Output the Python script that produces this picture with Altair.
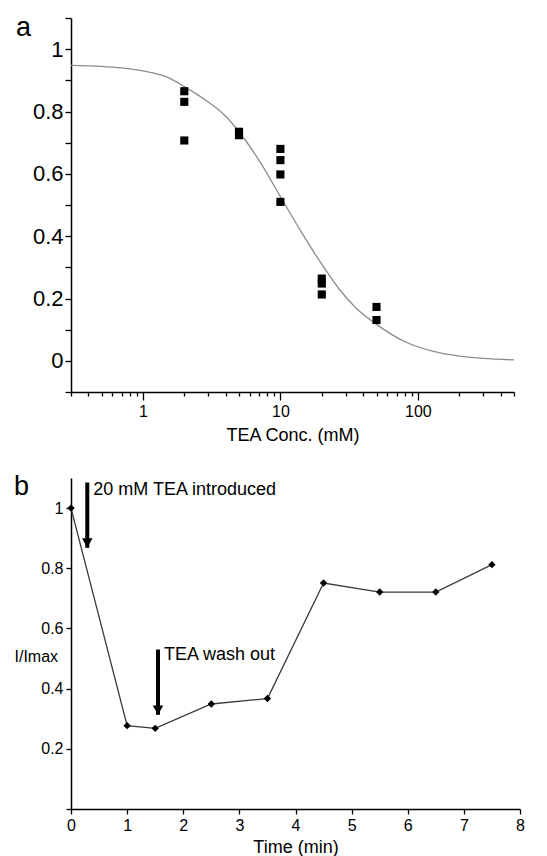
import json
import altair as alt
import pandas as pd

FONT = "Liberation Sans"

# ---------------- Panel a data ----------------
conc = [2, 2, 2, 5, 5, 10, 10, 10, 10, 20, 20, 20, 50, 50]
inhib = [0.865, 0.831, 0.707, 0.735, 0.724, 0.680, 0.644, 0.598, 0.510,
         0.264, 0.248, 0.213, 0.173, 0.131]

# fitted curve
fit_conc = [0.3, 0.5, 0.7, 1, 1.5, 2, 3, 4, 5, 7, 10, 14, 20, 27, 35, 50,
            80, 130, 200, 300, 500]
fit_val = [0.948, 0.945, 0.940, 0.930, 0.910, 0.880, 0.830, 0.785, 0.735,
           0.643, 0.527, 0.418, 0.310, 0.228, 0.172, 0.117, 0.062, 0.030,
           0.015, 0.008, 0.003]

a_x_ticks = [0.3, 0.4, 0.5, 0.6, 0.7, 0.8, 0.9, 1, 2, 3, 4, 5, 6, 7, 8, 9,
             10, 20, 30, 40, 50, 60, 70, 80, 90, 100, 200, 300, 400, 500]
a_x_labelled = [1, 10, 100]
a_y_ticks = [-0.1, 0, 0.1, 0.2, 0.3, 0.4, 0.5, 0.6, 0.7, 0.8, 0.9, 1, 1.1]
a_y_labelled = [0, 0.2, 0.4, 0.6, 0.8, 1]

# ---------------- Panel b data ----------------
time = [0, 1, 1.5, 2.5, 3.5, 4.5, 5.5, 6.5, 7.5]
rel = [1.0, 0.277, 0.268, 0.349, 0.367, 0.751, 0.721, 0.721, 0.812]

arrow_t = [0.29, 1.55]
arrow_top = [1.085, 0.53]
arrow_tip = [0.868, 0.313]
arrow_text = ["20 mM TEA introduced", "TEA wash out"]
arrow_text_y = [1.061, 0.513]

b_x_ticks = [0, 1, 2, 3, 4, 5, 6, 7, 8]
b_y_ticks = [0, 0.1, 0.2, 0.3, 0.4, 0.5, 0.6, 0.7, 0.8, 0.9, 1, 1.1]
b_y_labelled = [0.2, 0.4, 0.6, 0.8, 1]


def is_in(vals):
    return "indexof(%s, datum.value) >= 0" % json.dumps(vals)


def only(vals):
    return is_in(vals) + " ? datum.label : ''"


def fsize(vals, size):
    return {"condition": {"test": is_in(vals), "value": size}, "value": 0}


# ---------------- Panel a ----------------
df_a = pd.DataFrame({"conc": conc, "val": inhib})
df_fit = pd.DataFrame({"conc": fit_conc, "val": fit_val})

xa = alt.X(
    "conc:Q",
    scale=alt.Scale(type="log", domain=[0.3, 500], nice=False),
    axis=alt.Axis(
        values=a_x_ticks, format="~g", labelExpr=only(a_x_labelled),
        tickSize={"condition": {"test": is_in(a_x_labelled), "value": 8}, "value": 4},
        title="TEA Conc. (mM)", labelFontSize=fsize(a_x_labelled, 16),
        titleFontSize=18, labelPadding=3, titlePadding=7,
        labelOverlap=False, labelFlush=False,
    ),
)
ya = alt.Y(
    "val:Q",
    scale=alt.Scale(domain=[-0.1, 1.1], nice=False, zero=False),
    axis=alt.Axis(
        values=a_y_ticks, format="~g", labelExpr=only(a_y_labelled),
        tickSize=6, title=None, labelFontSize=fsize(a_y_labelled, 22),
        labelPadding=2, labelOverlap=False, labelFlush=False,
    ),
)

curve = alt.Chart(df_fit).mark_line(
    color="#8c8c8c", strokeWidth=1.3, interpolate="monotone"
).encode(x=xa, y=ya)
pts_a = alt.Chart(df_a).mark_square(size=66, color="black", opacity=1).encode(x=xa, y=ya)
lab_a = alt.Chart(pd.DataFrame({"t": ["a"]})).mark_text(
    align="left", baseline="alphabetic", fontSize=27, font=FONT, color="black"
).encode(text="t:N", x=alt.value(-55), y=alt.value(18))

panel_a = alt.layer(curve, pts_a, lab_a).properties(width=443, height=374)

# ---------------- Panel b ----------------
df_b = pd.DataFrame({"time": time, "rel": rel})
df_arrow = pd.DataFrame({
    "t": arrow_t, "top": arrow_top, "tip": arrow_tip,
    "text": arrow_text, "ty": arrow_text_y,
})

xb_scale = alt.Scale(domain=[0, 8], nice=False)
yb_scale = alt.Scale(domain=[0, 1.1], nice=False, zero=False)

xb = alt.X(
    "time:Q", scale=xb_scale,
    axis=alt.Axis(values=b_x_ticks, format="~g", tickSize=5, title="Time (min)",
                  labelFontSize=16, titleFontSize=18, labelPadding=3,
                  titlePadding=5, labelOverlap=False, labelFlush=False),
)
yb = alt.Y(
    "rel:Q", scale=yb_scale,
    axis=alt.Axis(values=b_y_ticks, format="~g", labelExpr=only(b_y_labelled),
                  tickSize=5, labelFontSize=fsize(b_y_labelled, 16), labelPadding=3,
                  labelOverlap=False, labelFlush=False,
                  title="I/Imax", titleAngle=0, titleAlign="left",
                  titleBaseline="middle", titleX=-57, titleY=178,
                  titleFontSize=16),
)

line_b = alt.Chart(df_b).mark_line(color="#3a3a3a", strokeWidth=1.3).encode(x=xb, y=yb)
pts_b = alt.Chart(df_b).mark_point(
    shape="diamond", filled=True, size=55, color="black", opacity=1
).encode(x=xb, y=yb)

shaft = alt.Chart(df_arrow).mark_rule(color="black", strokeWidth=4).encode(
    x=alt.X("t:Q", scale=xb_scale),
    y=alt.Y("top:Q", scale=yb_scale),
    y2=alt.Y2("tip:Q"),
)
head = alt.Chart(df_arrow).mark_point(
    shape="M-1,-1.8L1,-1.8L0,0Z", filled=True, size=110,
    color="black", opacity=1
).encode(x=alt.X("t:Q", scale=xb_scale), y=alt.Y("tip:Q", scale=yb_scale))
ann = alt.Chart(df_arrow).mark_text(
    align="left", baseline="middle", fontSize=18, font=FONT, color="black", dx=6
).encode(x=alt.X("t:Q", scale=xb_scale), y=alt.Y("ty:Q", scale=yb_scale), text="text:N")
lab_b = alt.Chart(pd.DataFrame({"t": ["b"]})).mark_text(
    align="left", baseline="alphabetic", fontSize=27, font=FONT, color="black"
).encode(text="t:N", x=alt.value(-57), y=alt.value(17))

panel_b = alt.layer(line_b, pts_b, shaft, head, ann, lab_b).properties(width=449, height=331)

chart = alt.ConcatChart(
    concat=[panel_a, panel_b], columns=1, spacing=27, align="none"
).configure(
    padding={"left": 5, "top": 5, "right": 5, "bottom": 0}, font=FONT
).configure_view(stroke="transparent").configure_axis(
    grid=False, domainColor="black", tickColor="black", labelColor="black",
    titleColor="black", domainWidth=1.5, tickWidth=1.3, labelFont=FONT,
    titleFont=FONT, titleFontWeight="normal",
)

chart.save("out.html", embed_options={"renderer": "svg", "actions": False})
